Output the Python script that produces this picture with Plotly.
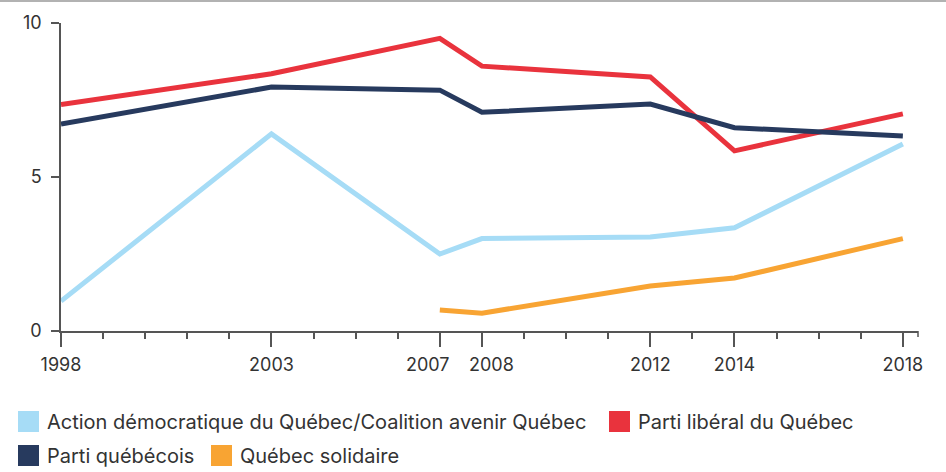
import plotly.graph_objects as go

years = [1998, 2003, 2007, 2008, 2012, 2014, 2018]
adq_caq = [0.97, 6.4, 2.5, 3.0, 3.05, 3.35, 6.07]
plq = [7.35, 8.35, 9.5, 8.6, 8.25, 5.85, 7.05]
pq = [6.72, 7.92, 7.82, 7.1, 7.37, 6.6, 6.33]
qs_years = [2007, 2008, 2012, 2014, 2018]
qs = [0.68, 0.58, 1.46, 1.72, 3.0]

names = ["Action démocratique du Québec/Coalition avenir Québec",
         "Parti libéral du Québec", "Parti québécois", "Québec solidaire"]
colors = ["#a6dcf6", "#e9333d", "#273a5e", "#f8a433"]
tick_years = [1998, 2003, 2007, 2008, 2012, 2014, 2018]
shifted_labels = {2007: -12, 2008: 10}

FONT = "Inter"
fig = go.Figure()
series = [(years, adq_caq), (years, plq), (years, pq), (qs_years, qs)]
for (xs, ys), n, c in zip(series, names, colors):
    fig.add_trace(go.Scatter(x=xs, y=ys, mode="lines", name=n,
                             line=dict(color=c, width=5), showlegend=False))

fig.update_layout(
    width=946, height=472,
    margin=dict(l=61, r=28, t=23, b=141),
    plot_bgcolor="white", paper_bgcolor="white",
    font=dict(family=FONT, size=18, color="#333"),
    xaxis=dict(range=[1998, 2018.36], tickvals=tick_years,
               ticktext=["" if y in shifted_labels else str(y) for y in tick_years],
               tickangle=0, automargin=False, ticklabelstandoff=3,
               ticks="outside", ticklen=14, tickcolor="#555", tickwidth=1.5,
               showline=True, linecolor="#555", linewidth=1.5,
               showgrid=False, zeroline=False,
               minor=dict(dtick=1, tick0=1998, ticks="outside", ticklen=6,
                          tickcolor="#555", tickwidth=1.5, showgrid=False)),
    yaxis=dict(range=[0, 10], tickvals=[0, 5, 10], automargin=False,
               ticks="outside", ticklen=8, tickcolor="#555", tickwidth=1.5,
               showline=True, linecolor="#555", linewidth=1.5,
               showgrid=False, zeroline=False, ticklabelstandoff=6),
)

# crowded tick labels, nudged apart
for yr, dx in shifted_labels.items():
    fig.add_annotation(xref="x", yref="paper", x=yr, y=0,
                       yshift=-33, xshift=dx, text=str(yr), showarrow=False,
                       xanchor="center", yanchor="middle",
                       font=dict(family=FONT, size=18, color="#333"))

# top border line
fig.add_shape(type="line", xref="paper", yref="paper", x0=-0.1, x1=1.1,
              y0=1 + 22 / 308, y1=1 + 22 / 308, line=dict(color="#999", width=1.5))
# end cap tick
fig.add_shape(type="line", xref="paper", yref="paper", x0=1, x1=1,
              y0=0, y1=-6 / 308, line=dict(color="#555", width=1.5))

# custom legend
pw = 946 - 61 - 28
ph = 472 - 23 - 141
def px(x):
    return (x - 61) / pw
def py(y):
    return (472 - 141 - y) / ph

legend_pos = [(18, 421.5), (609, 421.5), (18, 455.5), (211, 455.5)]
for (lx, ly), n, c in zip(legend_pos, names, colors):
    fig.add_shape(type="rect", xref="paper", yref="paper",
                  x0=px(lx), x1=px(lx + 21), y0=py(ly + 10.5), y1=py(ly - 10.5),
                  fillcolor=c, line=dict(width=0))
    fig.add_annotation(xref="paper", yref="paper", x=px(lx + 27), y=py(ly),
                       text=n, showarrow=False, xanchor="left", yanchor="middle",
                       font=dict(family=FONT, size=20, color="#333"))

fig.write_html("out.html", config={"displayModeBar": False},
               post_script="document.body.style.margin='0';")
